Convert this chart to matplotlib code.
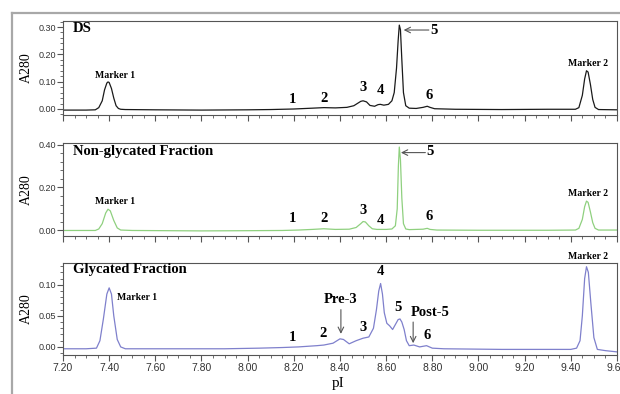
import matplotlib
matplotlib.use("Agg")
import matplotlib.pyplot as plt
from matplotlib.ticker import MultipleLocator, FormatStrFormatter
from matplotlib.lines import Line2D

# ---------- traced chromatograms (pI, A280) ----------
ds_pi = [7.20, 7.30, 7.34, 7.355, 7.37, 7.38, 7.39, 7.395, 7.40, 7.41, 7.42, 7.43, 7.44, 7.45,
         7.47, 7.60, 7.80, 8.00, 8.10, 8.20, 8.28, 8.33, 8.38, 8.43, 8.46, 8.49, 8.50, 8.515,
         8.53, 8.55, 8.565, 8.575, 8.59, 8.61, 8.625, 8.635, 8.645, 8.652, 8.657, 8.662, 8.668,
         8.675, 8.685, 8.70, 8.73, 8.76, 8.778, 8.79, 8.81, 8.90, 9.10, 9.30, 9.42, 9.435, 9.45,
         9.46, 9.468, 9.475, 9.485, 9.495, 9.505, 9.52, 9.60]
ds_a280 = [-0.004, -0.004, -0.003, 0.005, 0.030, 0.070, 0.095, 0.099, 0.097, 0.075, 0.040, 0.012,
           0.002, -0.001, -0.002, -0.003, -0.004, -0.003, -0.002, 0.000, 0.003, 0.005, 0.004,
           0.006, 0.012, 0.028, 0.030, 0.026, 0.013, 0.010, 0.016, 0.017, 0.014, 0.017, 0.030,
           0.060, 0.150, 0.250, 0.307, 0.290, 0.180, 0.060, 0.012, 0.003, 0.002, 0.006, 0.010,
           0.006, 0.001, -0.001, -0.002, -0.001, -0.001, 0.005, 0.050, 0.110, 0.140, 0.135,
           0.090, 0.035, 0.006, -0.002, -0.003]

ng_pi = [7.20, 7.34, 7.355, 7.37, 7.385, 7.395, 7.405, 7.42, 7.435, 7.45, 7.50, 7.80, 8.00, 8.15,
         8.22, 8.28, 8.33, 8.38, 8.44, 8.47, 8.49, 8.50, 8.51, 8.525, 8.54, 8.56, 8.60, 8.625,
         8.64, 8.648, 8.653, 8.657, 8.662, 8.668, 8.675, 8.685, 8.70, 8.76, 8.778, 8.79, 8.82,
         9.00, 9.30, 9.42, 9.435, 9.45, 9.46, 9.468, 9.475, 9.485, 9.495, 9.505, 9.52, 9.60]
ng_a280 = [-0.002, -0.002, 0.005, 0.030, 0.080, 0.098, 0.090, 0.045, 0.010, 0.000, -0.002,
           -0.004, -0.003, -0.002, 0.000, 0.003, 0.006, 0.003, 0.004, 0.012, 0.030, 0.040,
           0.038, 0.020, 0.006, 0.003, 0.003, 0.005, 0.020, 0.100, 0.300, 0.390, 0.330, 0.150,
           0.030, 0.005, 0.002, 0.004, 0.008, 0.003, 0.000, -0.001, -0.001, 0.000, 0.008, 0.050,
           0.110, 0.136, 0.130, 0.085, 0.035, 0.008, 0.000, 0.000]

gl_pi = [7.20, 7.30, 7.345, 7.36, 7.375, 7.39, 7.40, 7.41, 7.42, 7.435, 7.45, 7.47, 7.70, 7.90,
         8.05, 8.15, 8.22, 8.30, 8.33, 8.37, 8.40, 8.415, 8.44, 8.47, 8.50, 8.525, 8.545, 8.558,
         8.568, 8.576, 8.584, 8.592, 8.603, 8.615, 8.628, 8.64, 8.652, 8.66, 8.668, 8.678,
         8.688, 8.70, 8.72, 8.745, 8.775, 8.80, 8.85, 9.10, 9.40, 9.425, 9.44, 9.45, 9.46,
         9.468, 9.476, 9.487, 9.50, 9.515, 9.55, 9.60]
gl_a280 = [-0.003, -0.003, -0.002, 0.010, 0.045, 0.085, 0.095, 0.085, 0.050, 0.012, 0.000,
           -0.003, -0.003, -0.003, -0.002, -0.001, 0.000, 0.002, 0.003, 0.006, 0.013, 0.012,
           0.005, 0.010, 0.014, 0.016, 0.030, 0.060, 0.090, 0.102, 0.085, 0.055, 0.038, 0.034,
           0.028, 0.036, 0.044, 0.045, 0.040, 0.028, 0.010, 0.002, 0.003, 0.000, 0.002, -0.002,
           -0.003, -0.004, -0.004, -0.002, 0.010, 0.050, 0.110, 0.129, 0.120, 0.070, 0.015,
           -0.004, -0.006, -0.008]

# ---------- labels: (text, x, y, size, ha) ----------
ds_labels = [("Marker 1", 7.426, 0.121, 7, "center"), ("1", 8.196, 0.033, 10.5, "center"),
             ("2", 8.330, 0.040, 10.5, "center"), ("3", 8.500, 0.077, 10.5, "center"),
             ("4", 8.574, 0.066, 10.5, "center"), ("6", 8.787, 0.048, 10.5, "center"),
             ("Marker 2", 9.474, 0.165, 7, "center"), ("5", 8.809, 0.289, 10.5, "center")]
ng_labels = [("Marker 1", 7.426, 0.132, 7, "center"), ("1", 8.196, 0.056, 10.5, "center"),
             ("2", 8.330, 0.056, 10.5, "center"), ("3", 8.500, 0.094, 10.5, "center"),
             ("4", 8.574, 0.047, 10.5, "center"), ("6", 8.787, 0.066, 10.5, "center"),
             ("Marker 2", 9.474, 0.174, 7, "center"), ("5", 8.790, 0.367, 10.5, "center")]
gl_labels = [("Marker 1", 7.435, 0.079, 7, "left"), ("1", 8.196, 0.0145, 10.5, "center"),
             ("2", 8.326, 0.021, 10.5, "center"), ("Pre-3", 8.404, 0.077, 10.5, "center"),
             ("3", 8.500, 0.032, 10.5, "center"), ("4", 8.574, 0.121, 10.5, "center"),
             ("5", 8.652, 0.063, 10.5, "center"), ("Post-5", 8.790, 0.056, 10.5, "center"),
             ("6", 8.778, 0.018, 10.5, "center"), ("Marker 2", 9.474, 0.145, 7, "center")]

# arrows: (tail x, tail y, tip x, tip y)
ds_arrows = [(8.785, 0.289, 8.676, 0.289)]
ng_arrows = [(8.770, 0.364, 8.664, 0.364)]
gl_arrows = [(8.404, 0.060, 8.404, 0.021), (8.717, 0.040, 8.717, 0.006)]

serif = "Liberation Serif"
sans = "Liberation Sans"

fig = plt.figure(figsize=(6.2, 3.94), dpi=100)

# gray frame round the figure
fig.add_artist(Line2D([12/620, 1], [1 - 13/394, 1 - 13/394], color="#a8a8a8", lw=1.6))
fig.add_artist(Line2D([12/620, 12/620], [0, 1 - 13/394], color="#a8a8a8", lw=1.6))

panels = [
    dict(pos=[0.1016, 0.7081, 0.8935, 0.2386], x=ds_pi, y=ds_a280, color="#1a1a1a",
         ylim=(-0.022, 0.322), major=0.10, minor=0.02, title="DS", ty=0.293,
         labels=ds_labels, arrows=ds_arrows),
    dict(pos=[0.1016, 0.4010, 0.8935, 0.2360], x=ng_pi, y=ng_a280, color="#8fd07f",
         ylim=(-0.028, 0.409), major=0.20, minor=0.04, title="Non-glycated Fraction", ty=0.367,
         labels=ng_labels, arrows=ng_arrows),
    dict(pos=[0.1016, 0.0990, 0.8935, 0.2335], x=gl_pi, y=gl_a280, color="#7f80cc",
         ylim=(-0.013, 0.135), major=0.05, minor=0.01, title="Glycated Fraction", ty=0.124,
         labels=gl_labels, arrows=gl_arrows),
]

for i, p in enumerate(panels):
    ax = fig.add_axes(p["pos"])
    ax.plot(p["x"], p["y"], color=p["color"], lw=0.9)
    ax.set_xlim(7.2, 9.6)
    ax.set_ylim(*p["ylim"])
    ax.xaxis.set_major_locator(MultipleLocator(0.2))
    ax.xaxis.set_minor_locator(MultipleLocator(0.05))
    ax.yaxis.set_major_locator(MultipleLocator(p["major"]))
    ax.yaxis.set_minor_locator(MultipleLocator(p["minor"]))
    ax.xaxis.set_major_formatter(FormatStrFormatter("%.2f"))
    ax.yaxis.set_major_formatter(FormatStrFormatter("%.2f"))
    ax.tick_params(which="both", direction="out", color="#555555")
    ax.tick_params(which="major", length=4, width=0.8)
    ax.tick_params(which="minor", length=2, width=0.6)
    ax.tick_params(axis="y", labelsize=6.5, labelcolor="#333333", pad=1)
    ax.tick_params(axis="x", labelsize=7.5, labelcolor="#333333", pad=2)
    for lab in ax.get_xticklabels() + ax.get_yticklabels():
        lab.set_family(sans)
    if i < 2:
        ax.tick_params(axis="x", labelbottom=False)
    for s in ax.spines.values():
        s.set_color("#555555")
        s.set_linewidth(0.8)
    ax.set_ylabel("A280", family=serif, fontsize=10, labelpad=4)
    ax.yaxis.set_label_coords(-0.054, 0.5)

    ax.text(7.243, p["ty"], p["title"], family=serif, weight="bold", fontsize=10.5,
            ha="left", va="center")
    for txt, tx, ty, size, ha in p["labels"]:
        ax.text(tx, ty, txt, family=serif, weight="bold", fontsize=size, ha=ha, va="center")
    for x0, y0, x1, y1 in p["arrows"]:
        ax.annotate("", xy=(x1, y1), xytext=(x0, y0),
                    arrowprops=dict(arrowstyle="->", color="#555555", lw=0.8,
                                    shrinkA=0, shrinkB=0))

fig.text(338/620, 1 - 383/394, "pI", family=serif, fontsize=11, ha="center", va="center")

fig.savefig("out.png", dpi=100)
